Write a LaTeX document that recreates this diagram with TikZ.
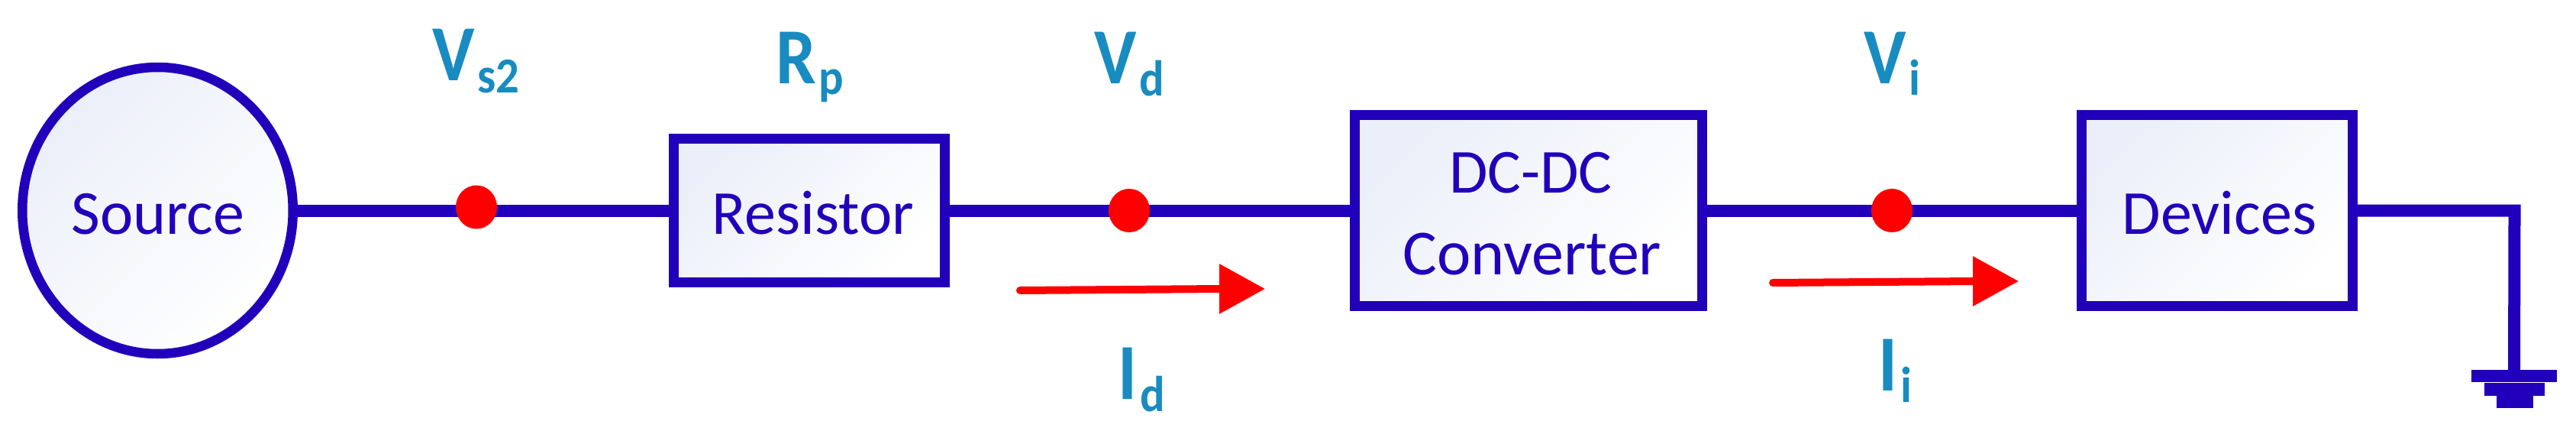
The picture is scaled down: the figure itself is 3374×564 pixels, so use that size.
\documentclass[tikz,border=0pt]{standalone}
\usepackage{fontspec}
\setmainfont{Carlito}
\usetikzlibrary{shapes.geometric,arrows.meta,backgrounds}
\definecolor{wireblue}{HTML}{2200BB}
\definecolor{labelblue}{HTML}{188CC0}
\definecolor{tint}{HTML}{EBEFF9}
\tikzset{
  x=1pt,y=-1pt,
  blockfill/.style={left color=tint,middle color=white,right color=white,shading angle=45},
  block/.style={draw=wireblue,line width=13pt,rectangle,inner sep=0pt,outer sep=0pt,blockfill},
  srcshape/.style={draw=wireblue,line width=12.5pt,ellipse,inner sep=0pt,outer sep=0pt,blockfill},
  wire/.style={draw=wireblue,line width=16pt,line cap=butt,line join=miter},
  dotnode/.style={fill=red,draw=none,ellipse,inner sep=0pt,outer sep=0pt,minimum width=54pt,minimum height=57pt},
  flow/.style={draw=red,line width=10pt,line cap=round,-{Triangle[length=60pt,width=63pt]}},
  blocktext/.style={text=wireblue,font=\fontsize{82}{82}\selectfont,inner sep=0pt,anchor=base},
  sym/.style={text=labelblue,inner sep=0pt,anchor=base west,font=\fontsize{104}{104}\selectfont\bfseries},
  gbar/.style={fill=wireblue,draw=none,rectangle,inner sep=0pt,outer sep=0pt},
}
\newcommand{\symlab}[3]{\scalebox{0.9}[1]{#1}\hspace{4pt}\raisebox{-#2pt}{\scalebox{0.92}[1]{\fontsize{66}{66}\selectfont #3}}}
\begin{document}
\begin{tikzpicture}
\useasboundingbox (0,0) rectangle (3374,564);
% blocks
\node[srcshape,minimum width=354.5pt,minimum height=375pt] (source) at (206.5,275.5) {};
\node[block,minimum width=355pt,minimum height=188pt] (resistor) at (1060,275.5) {};
\node[block,minimum width=455pt,minimum height=250pt] (converter) at (2002,275.5) {};
\node[block,minimum width=355pt,minimum height=250pt] (devices) at (2903.5,275.5) {};
% block text
\node[blocktext] (tsource) at (207,306) {Source};
\node[blocktext] (tresistor) at (1065,306) {Resistor};
\node[blocktext] (tdcdc) at (2005,252) {DC-DC};
\node[blocktext] (tconv) at (2007,359) {\fontsize{84}{84}\selectfont Converter};
\node[blocktext] (tdev) at (2907,306) {Devices};
% ground
\node[gbar,minimum width=112pt,minimum height=16pt] (g1) at (3293,492) {};
\node[gbar,minimum width=79pt,minimum height=17pt] (g2) at (3293.5,509) {};
\node[gbar,minimum width=48pt,minimum height=17pt] (g3) at (3294,525.5) {};
\coordinate (corner) at (3293.5,275.5);
% dots
\node[dotnode] (d1) at (624,271) {};
\node[dotnode] (d2) at (1479,275.5) {};
\node[dotnode] (d3) at (2478,275.5) {};
% wires
\begin{scope}[on background layer]
\draw[wire] (source.east) -- (resistor.west);
\draw[wire] (resistor.east) -- (converter.west);
\draw[wire] (converter.east) -- (devices.west);
\draw[wire] (devices.east) -- (corner) -- (g1.north);
\end{scope}
% current arrows
\coordinate (a1s) at (1336,380);
\coordinate (a1m) at (1600,378);
\coordinate (a1e) at (1657,378);
\coordinate (a2s) at (2322,370);
\coordinate (a2m) at (2587,368);
\coordinate (a2e) at (2644,368);
\draw[flow] (a1s) -- (a1m) -- (a1e);
\draw[flow] (a2s) -- (a2m) -- (a2e);
% labels
\node[sym] (lvs) at (566,106) {\symlab{V}{16}{s2}};
\node[sym] (lrp) at (1016,110) {\symlab{R}{14}{p}};
\node[sym] (lvd) at (1433,110) {\symlab{V}{16}{d}};
\node[sym] (lvi) at (2441,110) {\symlab{V}{15}{i}};
\node[sym] (lid) at (1464,522) {\symlab{I}{16}{d}};
\node[sym] (lii) at (2460,511) {\symlab{I}{15}{i}};
\end{tikzpicture}
\end{document}
